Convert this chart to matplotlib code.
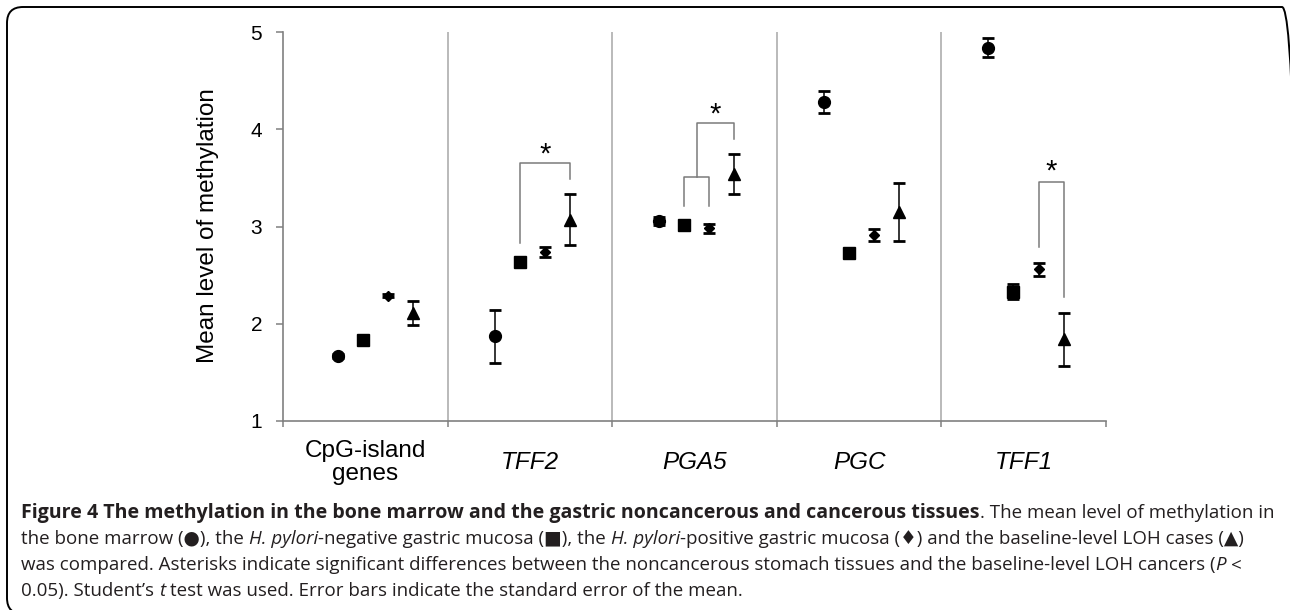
import numpy as np
import matplotlib
matplotlib.use("Agg")
import matplotlib.pyplot as plt
from matplotlib.transforms import IdentityTransform, blended_transform_factory
from matplotlib.patches import FancyBboxPatch

# ---- data ----
groups = ["CpG-island\ngenes", "TFF2", "PGA5", "PGC", "TFF1"]
group_italic = [False, True, True, True, True]

marrow_mean = [1.67, 1.87, 3.06, 4.28, 4.84]
marrow_se = [0.02, 0.27, 0.04, 0.11, 0.095]
hp_neg_mean = [1.83, 2.63, 3.02, 2.73, 2.33]
hp_neg_se = [0.02, 0.04, 0.02, 0.04, 0.08]
hp_pos_mean = [2.29, 2.74, 2.98, 2.91, 2.56]
hp_pos_se = [0.02, 0.05, 0.05, 0.06, 0.065]
loh_mean = [2.11, 3.07, 3.54, 3.15, 1.84]
loh_se = [0.12, 0.26, 0.21, 0.30, 0.27]

# significance brackets: group, left series, right series, top, left foot, right foot
brackets = [
    (1, 1, 3, 3.65, 2.83, 3.49),
    (2, 1, 2, 3.51, 3.21, 3.21),
    (2, 1.5, 3, 4.06, 3.51, 3.90),
    (4, 2, 3, 3.46, 2.79, 2.28),
]
# asterisks: group, series position, y
stars = [(1, 2.0, 3.83), (2, 2.25, 4.24), (4, 2.5, 3.65)]

y_ticks = [1, 2, 3, 4, 5]

# position of each series inside a group (fraction of group width)
slots = [0.285, 0.437, 0.59, 0.742]
first_group_shift = 0.05


def xpos(g, s):
    base = np.interp(s, [0, 1, 2, 3], slots)
    return g + base + (first_group_shift if g == 0 else 0.0)


W, H = 1290, 610
fig = plt.figure(figsize=(W / 100, H / 100), dpi=100)
ax = fig.add_axes([283 / W, 1 - 421 / H, (1106 - 283) / W, (421 - 32) / H])

series = [
    (marrow_mean, marrow_se, "o", 8.5),
    (hp_neg_mean, hp_neg_se, "s", 8),
    (hp_pos_mean, hp_pos_se, "D", 5.5),
    (loh_mean, loh_se, "^", 9),
]
for s, (mean, se, marker, ms) in enumerate(series):
    xs = [xpos(g, s) for g in range(len(groups))]
    ax.errorbar(xs, mean, yerr=se, fmt="none", ecolor="black",
                elinewidth=1.1, capsize=4, capthick=2)
    ax.plot(xs, mean, linestyle="none", marker=marker, ms=ms,
            color="black", zorder=3)

# group separators
for b in range(1, len(groups)):
    ax.plot([b, b], [1, 5], color="#b4b4b4", lw=1.3, zorder=0)

for g, s0, s1, top, f0, f1 in brackets:
    x0, x1 = xpos(g, s0), xpos(g, s1)
    ax.plot([x0, x0, x1, x1], [f0, top, top, f1], color="#7a7a7a", lw=1.1)

for g, s, y in stars:
    ax.annotate("*", (xpos(g, s), y), xytext=(0, -12), textcoords="offset points",
                ha="center", va="baseline", fontsize=21, family="Liberation Sans")

ax.set_xlim(0, len(groups))
ax.set_ylim(1, 5)
ax.set_yticks(y_ticks)
ax.set_yticklabels([str(v) for v in y_ticks], fontsize=15, family="Liberation Sans")
ax.set_xticks(range(len(groups) + 1))
ax.set_xticklabels([])
ax.tick_params(axis="y", direction="out", length=5, width=1.1, color="#808080", pad=10)
ax.tick_params(axis="x", direction="out", length=4, width=1.1, color="#808080")
for side in ["top", "right"]:
    ax.spines[side].set_visible(False)
for side in ["left", "bottom"]:
    ax.spines[side].set_color("#808080")
    ax.spines[side].set_linewidth(1.2)

trans = blended_transform_factory(ax.transData, ax.transAxes)
for g, (name, it) in enumerate(zip(groups, group_italic)):
    ax.text(g + 0.5, -0.107, name, transform=trans, ha="center", va="center",
            fontsize=17.5, family="Liberation Sans",
            fontstyle="italic" if it else "normal", linespacing=1.05)

fig.text(208 / W, 1 - 226 / H, "Mean level of methylation", rotation=90,
         ha="center", va="center", fontsize=17.5, family="Liberation Sans")

# frame around figure (right and bottom edges run just off the picture)
frame = FancyBboxPatch((7, -4), 1291, H - 7 + 4, boxstyle="round,pad=0,rounding_size=16",
                       transform=IdentityTransform(), fill=False, ec="black", lw=1.4)
fig.patches.append(frame)

# caption, drawn run by run
caption = [
    [("Figure 4 The methylation in the bone marrow and the gastric noncancerous and cancerous tissues", "b"),
     (". The mean level of methylation in", "n")],
    [("the bone marrow (\u25cf), the ", "n"), ("H. pylori", "i"),
     ("-negative gastric mucosa (\u25a0), the ", "n"), ("H. pylori", "i"),
     ("-positive gastric mucosa (\u2666) and the baseline-level LOH cases (\u25b2)", "n")],
    [("was compared. Asterisks indicate significant differences between the noncancerous stomach tissues and the baseline-level LOH cancers (", "n"),
     ("P", "i"), (" <", "n")],
    [("0.05). Student\u2019s ", "n"), ("t", "i"),
     (" test was used. Error bars indicate the standard error of the mean.", "n")],
]
line_y = [513, 539, 565, 591]
cap_family = ["Open Sans", "DejaVu Sans"]
renderer = fig.canvas.get_renderer()


def text_width(s, size, weight="normal", style="normal"):
    t = fig.text(0, 0, s, fontsize=size, family=cap_family, fontweight=weight, fontstyle=style)
    w = t.get_window_extent(renderer).width
    t.remove()
    return w


# size the caption so its lines span the same width as in the original
base = 13.0
norm_size = base * 1214 / text_width(caption[2][0][0].rstrip() + "P <", base)
bold_size = base * 949 / text_width(caption[0][0][0], base, weight="bold")
space_w = text_width("x x", norm_size) - text_width("xx", norm_size)

for runs, yc in zip(caption, line_y):
    x = 21
    for text, style in runs:
        lead = len(text) - len(text.lstrip(" "))
        trail = len(text) - len(text.rstrip(" "))
        x += lead * space_w
        t = fig.text(x, H - yc - 5, text.strip(" "), transform=IdentityTransform(),
                     fontsize=bold_size if style == "b" else norm_size,
                     family=cap_family, va="baseline",
                     fontweight="bold" if style == "b" else "normal",
                     fontstyle="italic" if style == "i" else "normal",
                     color="#231f20")
        x += t.get_window_extent(renderer).width + trail * space_w

fig.savefig("out.png", dpi=100)
